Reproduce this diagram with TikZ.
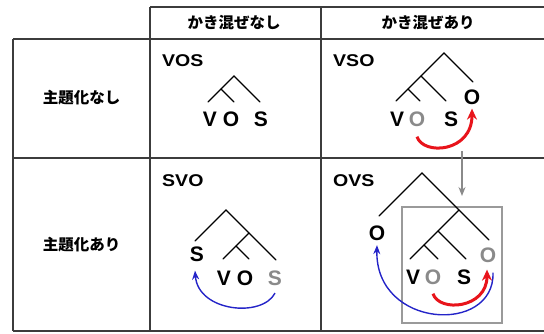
\documentclass[tikz,border=0pt]{standalone}
\usepackage{fontspec}
\setmainfont{Liberation Sans}
\newfontfamily\jp{Noto Sans CJK JP}
\usetikzlibrary{arrows.meta}

\definecolor{gridline}{HTML}{3C3C3C}
\definecolor{movered}{HTML}{E8141B}
\definecolor{moveblue}{HTML}{2424C8}
\definecolor{trace}{HTML}{8A8A8A}
\definecolor{framegray}{HTML}{9A9A9A}

\begin{document}
\begin{tikzpicture}[x=1pt,y=-1pt,
  grid/.style={draw=gridline,line width=1.3pt},
  head/.style={font=\jp\bfseries\fontsize{15.5}{18}\selectfont,inner sep=0},
  title/.style={font=\bfseries\fontsize{17}{20}\selectfont,anchor=north west,inner sep=0},
  word/.style={font=\bfseries\fontsize{21}{24}\selectfont,inner sep=0},
  ghost/.style={word,text=trace},
  branch/.style={line width=1.1pt,line cap=round},
  redmove/.style={draw=movered,line width=3pt,-{Stealth[length=11pt,width=10pt]}},
  bluemove/.style={draw=moveblue,line width=1.4pt,-{Stealth[length=9pt,width=7pt]}},
  graymove/.style={draw=trace,line width=1.4pt,-{Stealth[length=9pt,width=7pt]}},
]
\useasboundingbox (0,0) rectangle (544,333);

% ---- table rules ----
\draw[grid] (150,7) -- (546,7);
\draw[grid] (13,39) -- (546,39);
\draw[grid] (13,158) -- (546,158);
\draw[grid] (13,331) -- (546,331);
\draw[grid] (13,39) -- (13,331);
\draw[grid] (150,7) -- (150,331);
\draw[grid] (321,7) -- (321,331);

% ---- headers ----
\node[head] (h1) at (234,23) {かき混ぜなし};
\node[head] (h2) at (428,23) {かき混ぜあり};
\node[head] (r1) at (81.5,98) {主題化なし};
\node[head] (r2) at (81.5,245) {主題化あり};

% ---- VOS ----
\node[title] (t1) at (162,54) {\scalebox{1.15}[1]{VOS}};
\draw[branch] (208,102) -- (234,76) -- (260,102);
\draw[branch] (221,89) -- (234,102);
\node[word] (v1) at (210,119) {V};
\node[word] (o1) at (231,119) {O};
\node[word] (s1) at (261,119) {S};

% ---- VSO ----
\node[title] (t2) at (333,54) {\scalebox{1.15}[1]{VSO}};
\draw[branch] (396,101) -- (444,53) -- (473,82);
\draw[branch] (421,76) -- (446,101);
\draw[branch] (408,89) -- (420,101);
\node[word] (v2) at (397,119) {V};
\node[ghost] (og1) at (417,119) {O};
\node[word] (s2) at (451,119) {S};
\node[word] (ob1) at (472,97) {O};
\draw[redmove] ([yshift=-10pt]og1.south) .. controls +(6,19) and +(0,44) .. ([yshift=-4pt]ob1.south);

% ---- SVO ----
\node[title] (t3) at (162,174) {\scalebox{1.15}[1]{SVO}};
\draw[branch] (195,241) -- (226,210) -- (276,260);
\draw[branch] (249,233) -- (223,259);
\draw[branch] (236,246) -- (249,259);
\node[word] (sb) at (197,254) {S};
\node[word] (v3) at (224,278) {V};
\node[word] (o3) at (245,278) {O};
\node[ghost] (sg) at (275,278) {S};
\draw[bluemove] ([yshift=-7.5pt]sg.south) .. controls +(-13,25) and +(3,41) .. ([xshift=-2pt,yshift=-9pt]sb.south);

% ---- OVS ----
\node[title] (t4) at (333,174) {\scalebox{1.15}[1]{OVS}};
\draw[framegray,line width=1.3pt] (402,207) rectangle (502,323);
\draw[branch] (379,216) -- (422,173) -- (489,240);
\draw[branch] (459,210) -- (410,259);
\draw[branch] (438,231) -- (466,259);
\draw[branch] (424,245) -- (438,259);
\node[word] (ob3) at (377,233) {O};
\node[ghost] (og3) at (488,255) {O};
\node[word] (v4) at (413,277) {V};
\node[ghost] (og2) at (433,277) {O};
\node[word] (s4) at (464,277) {S};
\draw[redmove] ([yshift=-9pt]og2.south) .. controls +(6,19) and +(0,39) .. ([xshift=-1pt,yshift=-7pt]og3.south);
\draw[bluemove] ([xshift=5pt,yshift=-10pt]og3.south) .. controls +(2,62) and +(-2,84) .. ([yshift=-4.5pt]ob3.south);

% ---- derivation step between the two right cells ----
\coordinate (dropA) at (462,151);
\coordinate (dropB) at (462,196);
\draw[graymove] (dropA) -- (dropB);
\end{tikzpicture}
\end{document}
